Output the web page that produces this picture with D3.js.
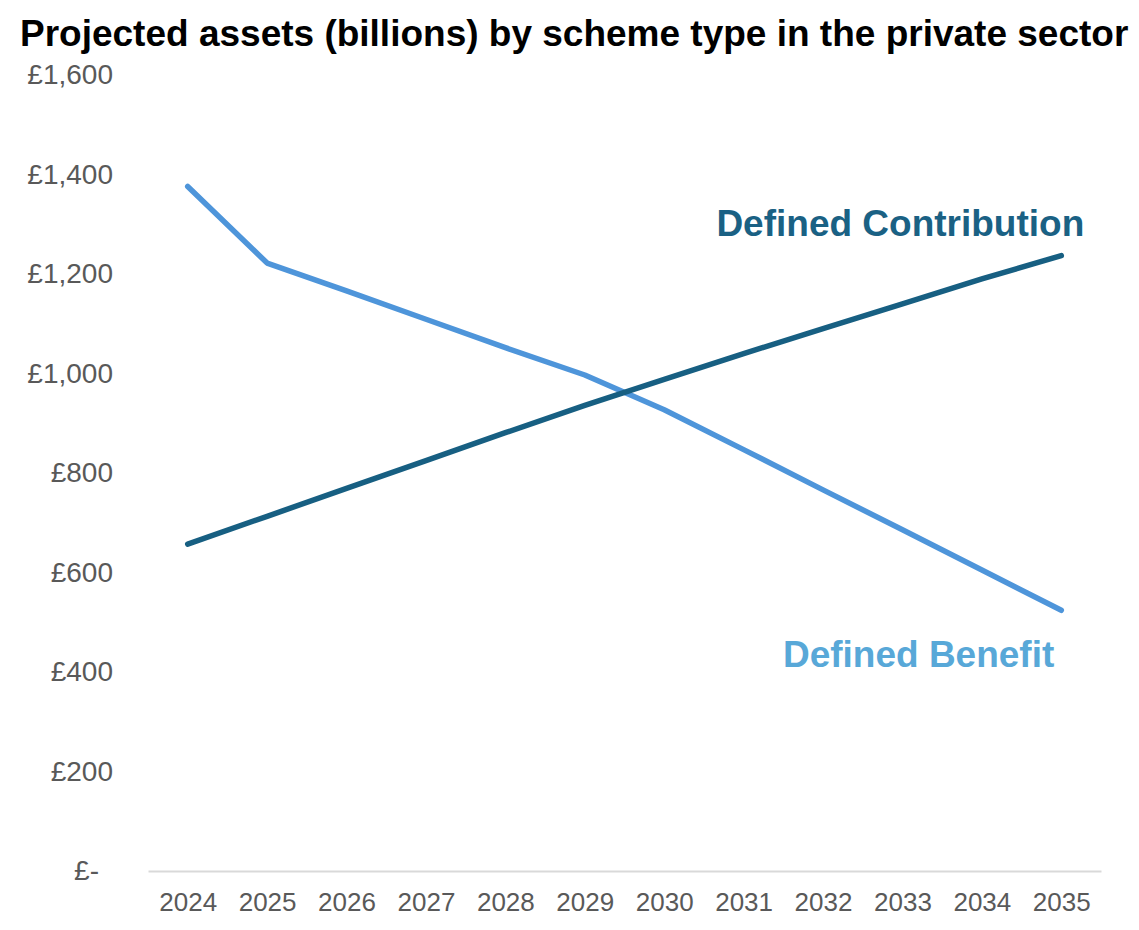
<!DOCTYPE html>
<html>
<head>
<meta charset="utf-8">
<script src="https://cdn.jsdelivr.net/npm/d3@7"></script>
<style>
  html, body { margin: 0; padding: 0; background: #ffffff; }
  svg { display: block; font-family: "Liberation Sans", Arial, sans-serif; }
</style>
</head>
<body>
<svg id="chart" width="1139" height="930"></svg>
<script>
// Projected private-sector pension assets, £ billions
const years = [2024, 2025, 2026, 2027, 2028, 2029, 2030, 2031, 2032, 2033, 2034, 2035];
const definedContribution = [657, 713, 769, 825, 881, 936, 988, 1040, 1090, 1140, 1190, 1237];
const definedBenefit = [1376, 1222, 1166, 1109, 1052, 997, 927, 847, 766, 686, 605, 524];
const yTicks = [0, 200, 400, 600, 800, 1000, 1200, 1400, 1600];

const titleText = "Projected assets (billions) by scheme type in the private sector";
const dcLabel = "Defined Contribution";
const dbLabel = "Defined Benefit";

const svg = d3.select("#chart");

const margin = { left: 148, right: 38, top: 75, bottom: 59 };
const W = 1139, H = 930;

const x = d3.scalePoint()
  .domain(years)
  .range([margin.left, W - margin.right])
  .padding(0.5);

const y = d3.scaleLinear()
  .domain([0, 1600])
  .range([H - margin.bottom, margin.top]);

// Title
svg.append("text")
  .attr("x", 20)
  .attr("y", 46)
  .attr("font-size", 37)
  .attr("font-weight", "bold")
  .attr("fill", "#000000")
  .text(titleText);

// Y axis labels (accounting-style £ format)
const fmt = d3.format(",");
const yAxis = d3.axisLeft(y)
  .tickValues(yTicks)
  .tickSize(0)
  .tickPadding(0)
  .tickFormat(d => d === 0 ? "£-" : "£" + fmt(d));

const gy = svg.append("g")
  .attr("transform", `translate(113,0)`)
  .call(yAxis);
gy.select(".domain").remove();
gy.selectAll("text")
  .attr("font-size", 28)
  .attr("fill", "#595959")
  .attr("font-family", "Liberation Sans, Arial, sans-serif")
  .attr("dx", d => d === 0 ? -14 : 0);

// X axis
const xAxis = d3.axisBottom(x).tickSize(0).tickPadding(22);
const gx = svg.append("g")
  .attr("transform", `translate(0,${y(0)})`)
  .call(xAxis);
gx.select(".domain")
  .attr("stroke", "#d9d9d9")
  .attr("stroke-width", 2);
gx.selectAll("text")
  .attr("font-size", 26)
  .attr("fill", "#595959")
  .attr("font-family", "Liberation Sans, Arial, sans-serif");

// Lines
const line = d3.line()
  .x((d, i) => x(years[i]))
  .y(d => y(d));

svg.append("path")
  .datum(definedBenefit)
  .attr("d", line)
  .attr("fill", "none")
  .attr("stroke", "#4e95da")
  .attr("stroke-width", 5.5)
  .attr("stroke-linecap", "round")
  .attr("stroke-linejoin", "round");

svg.append("path")
  .datum(definedContribution)
  .attr("d", line)
  .attr("fill", "none")
  .attr("stroke", "#175f82")
  .attr("stroke-width", 5.5)
  .attr("stroke-linecap", "round")
  .attr("stroke-linejoin", "round");

// Series labels
const last = years.length - 1;
svg.append("text")
  .attr("x", x(years[last]) + 23)
  .attr("y", y(definedContribution[last]) - 20)
  .attr("text-anchor", "end")
  .attr("font-size", 37)
  .attr("font-weight", "bold")
  .attr("fill", "#1a6184")
  .text(dcLabel);

svg.append("text")
  .attr("x", x(years[last]) - 7)
  .attr("y", y(definedBenefit[last]) + 57)
  .attr("text-anchor", "end")
  .attr("font-size", 37)
  .attr("font-weight", "bold")
  .attr("fill", "#58a8d8")
  .text(dbLabel);
</script>
</body>
</html>
